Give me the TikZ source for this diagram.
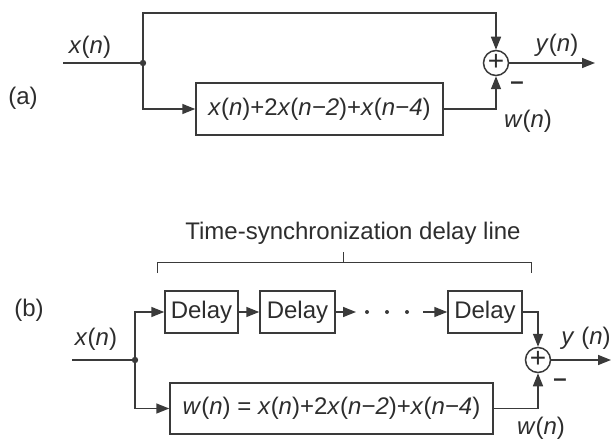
\documentclass[tikz,border=0pt]{standalone}
\usepackage{fontspec}
\setmainfont{Liberation Sans}
\usepackage{tikz}
\usetikzlibrary{arrows.meta, positioning, calc}
\definecolor{mydark}{RGB}{58,58,58}
\definecolor{mytext}{RGB}{45,45,45}
\newcommand{\sig}[2]{\textit{#1}(\textit{#2})}
\tikzset{
  block/.style={rectangle, draw=mydark, line width=1.5pt, inner sep=0pt,
    font=\fontsize{24}{28}\selectfont, text=mytext},
  sumjunc/.style={circle, draw=mydark, line width=1.5pt, minimum size=25pt,
    inner sep=0pt, font=\fontsize{28}{28}\selectfont, text=mytext},
  lbl/.style={font=\fontsize{24}{28}\selectfont, text=mytext, inner sep=0pt},
  arrow/.style={-{Triangle[length=13pt,width=10pt]}, line width=1.5pt, color=mydark},
  line/.style={line width=1.5pt, color=mydark}
}

\begin{document}
\begin{tikzpicture}[x=1pt, y=-1pt]
  \useasboundingbox (0,0) rectangle (611,441);

  % (a) Two-path comb filter
  \node[lbl] (alabel) at (23,98) {(a)};
  \coordinate (ain) at (63,63);
  \coordinate (adot) at (143,63);
  \fill[mydark] (adot) circle (3.2pt);
  \node[sumjunc] (asum) at (496,63) {\raisebox{1pt}{+}};
  \node[block, minimum width=247pt, minimum height=52pt] (abox) at (319.5,109)
    {\sig{x}{n}+2\sig{x}{n−2}+\sig{x}{n−4}};
  \coordinate (aout) at (595,63);
  \draw[line] (ain) -- (adot);
  \draw[arrow] (adot) |- (496,13) -- (asum.north);
  \draw[arrow] (adot) |- (abox.west);
  \draw[arrow] (abox.east) -| (asum.south);
  \draw[arrow] (asum.east) -- (aout);
  \node[lbl] (axn) at (90,47) {\sig{x}{n}};
  \node[lbl] (ayn) at (557,45) {\sig{y}{n}};
  \node[lbl] (awn) at (528,121) {\sig{w}{n}};
  \node[lbl] (aminus) at (517,86) {\textbf{–}};

  % (b) Delay line version
  \node[lbl] (blabel) at (29,310) {(b)};
  \node[lbl, anchor=base] (btitle) at (353,240) {Time-synchronization delay line};
  \draw[line, line width=1pt] (157,273) -- (157,262) -- (531,262) -- (531,273);
  \draw[line, line width=1pt] (343,262) -- (343,252);

  \node[block, minimum width=73pt, minimum height=42pt] (delay1) at (201.5,312) {Delay};
  \node[block, minimum width=75pt, minimum height=42pt] (delay2) at (297.5,312) {Delay};
  \node[block, minimum width=74pt, minimum height=42pt] (delay3) at (485,312) {Delay};
  \node[block, minimum width=323pt, minimum height=51pt] (wbox) at (331.5,408.5)
    {\sig{w}{n} = \sig{x}{n}+2\sig{x}{n−2}+\sig{x}{n−4}};
  \node[sumjunc] (bsum) at (538,360) {\raisebox{1pt}{+}};

  \coordinate (bin) at (72,360);
  \coordinate (bdot) at (135,360);
  \fill[mydark] (bdot) circle (3.2pt);
  \coordinate (gapl) at (356,312);
  \coordinate (gapr) at (423,312);
  \coordinate (bout) at (611,360);

  \draw[line] (bin) -- (bdot);
  \draw[arrow] (bdot) |- (delay1.west);
  \draw[arrow] (bdot) |- (wbox.west);
  \draw[arrow] (delay1) -- (delay2);
  \draw[arrow] (delay2.east) -- (gapl);
  \foreach \px in {367,387,407}
    \fill[mydark] (\px,312) circle (2pt);
  \draw[arrow] (gapr) -- (delay3.west);
  \draw[arrow] (delay3.east) -| (bsum.north);
  \draw[arrow] (wbox.east) -| (bsum.south);
  \draw[arrow] (bsum.east) -- (bout);
  \node[lbl] (bxn) at (96,339) {\sig{x}{n}};
  \node[lbl] (byn) at (586,338) {\textit{y} (\textit{n})};
  \node[lbl] (bwn) at (541,428) {\sig{w}{n}};
  \node[lbl] (bminus) at (560,383) {\textbf{–}};
\end{tikzpicture}
\end{document}
